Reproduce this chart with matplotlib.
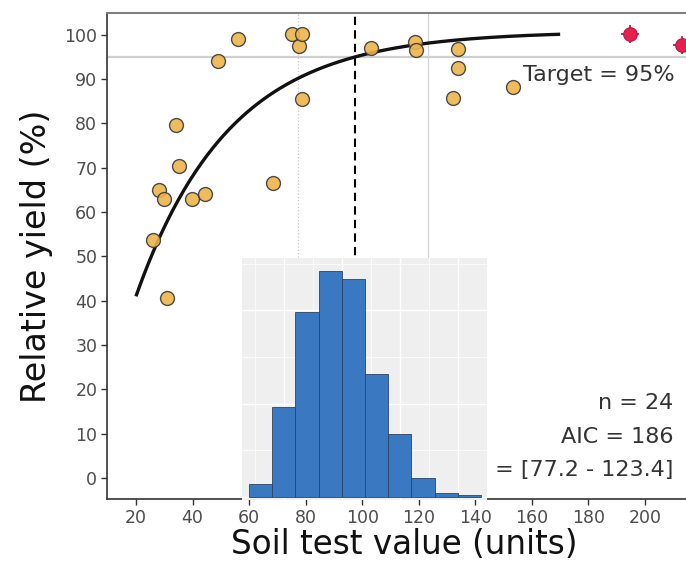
import numpy as np
import matplotlib
matplotlib.use("Agg")
import matplotlib.pyplot as plt

# ---------------- data ----------------
stv = [26, 28.2, 30, 31, 34.3, 35.1, 39.9, 44.3, 49, 56.2, 68.5, 75, 77.7, 78.6,
       78.6, 103, 118.8, 119, 134, 134, 132, 153.3]
ry = [53.6, 64.9, 63, 40.7, 79.6, 70.4, 63, 64.1, 94.1, 99.1, 66.5, 100.2, 97.4,
      100.2, 85.5, 97.1, 98.3, 96.6, 96.8, 92.5, 85.8, 88.3]
stv_out = [194.6, 213.0]
ry_out = [100.1, 97.7]

# fitted exponential model: y = a - b * exp(-c * x)
fit_a, fit_b, fit_c = 100.75, 109.3, 0.0302
fit_range = (20, 170)
cstv = 97.5
ci_low, ci_high = 77.2, 123.4
target = 95

n_obs = 24
aic = 186

# bootstrap histogram (inset)
hist_edges = [68, 76, 84, 92, 100, 108, 116, 124, 132, 140, 148]
hist_counts = [7, 48, 99, 121, 117, 66, 34, 10, 2, 1]

xticks = [20, 40, 60, 80, 100, 120, 140, 160, 180, 200]
yticks = [0, 10, 20, 30, 40, 50, 60, 70, 80, 90, 100]

# ---------------- figure ----------------
W, H = 686, 563
fig = plt.figure(figsize=(W / 100, H / 100), dpi=100)

ax = fig.add_axes([107 / W, (H - 499) / H, 594 / W, 486 / H])
ax.set_xlim(9.76, 219.8)
ax.set_ylim(-4.7, 104.9)

# reference lines
ax.axhline(target, color="#cfcfcf", lw=1.6, zorder=1)
ax.axvline(ci_low, color="#c8c8c8", lw=0.9, ls=":", zorder=1)
ax.axvline(ci_high, color="#d4d4d4", lw=0.9, zorder=1)
ax.axvline(cstv, color="black", lw=1.5, ls=(0, (4, 2.5)), zorder=2)

# fitted curve
xf = np.linspace(fit_range[0], fit_range[1], 300)
yf = fit_a - fit_b * np.exp(-fit_c * xf)
ax.plot(xf, yf, color="#111111", lw=2.4, zorder=3, solid_capstyle="butt")

# points
ax.scatter(stv, ry, s=100, facecolor="#EDB54A", edgecolor="#3a3a3a",
           linewidth=1.0, alpha=0.9, zorder=4)
ax.scatter(stv_out, ry_out, s=150, marker="+", color="#b0103a", linewidth=1.2, zorder=4)
ax.scatter(stv_out, ry_out, s=95, facecolor="#E8204F", edgecolor="#c0103e",
           linewidth=0.8, zorder=5)

# texts
ax.text(210.6, 90.9, f"Target = {target}%", ha="right", va="center",
        fontsize=16, color="#333333", zorder=6)
ax.text(209.9, 17.0, f"n = {n_obs}", ha="right", va="center", fontsize=16, color="#333333")
ax.text(209.9, 9.3, f"AIC = {aic}", ha="right", va="center", fontsize=16, color="#333333")
ax.text(209.9, 1.9, f"CI = [{ci_low} - {ci_high}]", ha="right", va="center",
        fontsize=16, color="#333333")

# axes styling
ax.set_xticks(xticks)
ax.set_yticks(yticks)
ax.tick_params(axis="both", direction="out", length=4, width=1.0, color="#333333",
               labelsize=12.5, labelcolor="#4d4d4d", pad=3)
for s in ["left", "bottom"]:
    ax.spines[s].set_color("#333333")
    ax.spines[s].set_linewidth(1.2)
ax.spines["top"].set_color("#808080")
ax.spines["top"].set_linewidth(1.5)
ax.spines["right"].set_color("#808080")
ax.set_xlabel("Soil test value (units)", fontsize=23.5, color="#111111", labelpad=1)
ax.set_ylabel("Relative yield (%)", fontsize=24, color="#111111", labelpad=8)

# ---------------- inset histogram ----------------
ins = fig.add_axes([242 / W, (H - 500) / H, 245 / W, 242 / H])
ins.set_facecolor("#EFEFEF")
widths = np.diff(hist_edges)
ins.bar(hist_edges[:-1], hist_counts, width=widths, align="edge",
        color="#3A78C2", edgecolor="#2a4468", linewidth=0.6, zorder=3)
bw = widths[0]
ins.set_xlim(hist_edges[0] - 0.30 * bw, hist_edges[-1] + 0.26 * bw)
ins.set_ylim(-1.6, 128)
ins.set_yticks([0, 50, 100])
ins.set_yticks([25, 75, 125], minor=True)
ins.set_xticks([80, 100, 120, 140])
ins.set_xticks([70, 90, 110, 130], minor=True)
ins.grid(True, which="major", color="white", lw=1.0, zorder=0)
ins.grid(True, which="minor", color="white", lw=0.5, zorder=0)
ins.tick_params(which="both", length=0, labelbottom=False, labelleft=False)
for s in ins.spines.values():
    s.set_visible(False)

fig.savefig("out.png", dpi=100)
